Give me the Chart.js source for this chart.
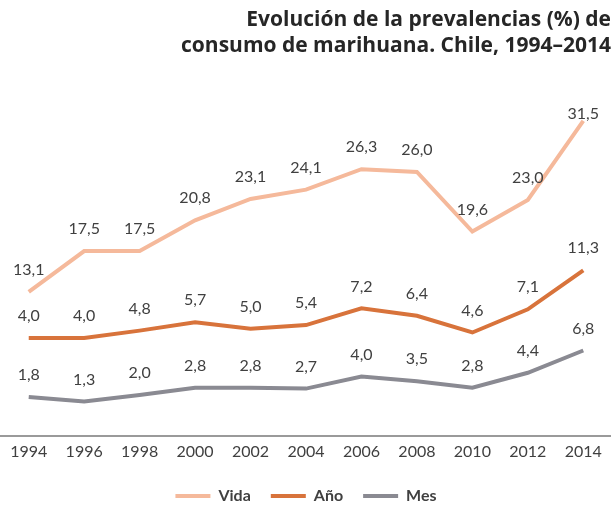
<!DOCTYPE html>
<html lang="es">
<head>
    <meta charset="UTF-8">
    <title>Prevalencias marihuana Chile</title>
    <style>
        html, body { margin: 0; padding: 0; background: #fff; }
        #chart { display: block; }
    </style>
</head>
<body>
    <canvas id="chart" width="611" height="506"></canvas>
    <script src="https://cdn.jsdelivr.net/npm/chart.js"></script>
    <script>
        // valores
        const years = ['1994', '1996', '1998', '2000', '2002', '2004', '2006', '2008', '2010', '2012', '2014'];
        const vida = [13.1, 17.5, 17.5, 20.8, 23.1, 24.1, 26.3, 26.0, 19.6, 23.0, 31.5];
        const anio = [4.0, 4.0, 4.8, 5.7, 5.0, 5.4, 7.2, 6.4, 4.6, 7.1, 11.3];
        const mes = [1.8, 1.3, 2.0, 2.8, 2.8, 2.7, 4.0, 3.5, 2.8, 4.4, 6.8];
        const titleLines = ['Evolución de la prevalencias (%) de', 'consumo de marihuana. Chile, 1994–2014'];

        const labelColor = '#404040';

        // etiquetas de valor encima de cada punto (sin salir del área del gráfico)
        const valueLabels = {
            id: 'valueLabels',
            afterDatasetsDraw(chart) {
                const ctx = chart.ctx;
                const top = chart.chartArea.top + 14;
                ctx.save();
                ctx.font = '16px Lato';
                ctx.fillStyle = labelColor;
                ctx.textAlign = 'center';
                ctx.textBaseline = 'middle';
                chart.data.datasets.forEach((ds, i) => {
                    const meta = chart.getDatasetMeta(i);
                    meta.data.forEach((pt, j) => {
                        const txt = ds.data[j].toFixed(1).replace('.', ',');
                        ctx.fillText(txt, pt.x, Math.max(pt.y - 22, top));
                    });
                });
                ctx.restore();
            }
        };

        const ctx = document.getElementById('chart').getContext('2d');
        const chart = new Chart(ctx, {
            type: 'line',
            data: {
                labels: years,
                datasets: [
                    {
                        label: 'Vida',
                        data: vida,
                        borderColor: '#f5b99b',
                        backgroundColor: '#f5b99b',
                        borderWidth: 4,
                        pointRadius: 0,
                        yAxisID: 'y'
                    },
                    {
                        label: 'Año',
                        data: anio,
                        borderColor: '#d8733b',
                        backgroundColor: '#d8733b',
                        borderWidth: 4,
                        pointRadius: 0,
                        yAxisID: 'y2'
                    },
                    {
                        label: 'Mes',
                        data: mes,
                        borderColor: '#8a8a92',
                        backgroundColor: '#8a8a92',
                        borderWidth: 4,
                        pointRadius: 0,
                        yAxisID: 'y'
                    }
                ]
            },
            options: {
                responsive: false,
                animation: false,
                layout: {
                    padding: { left: 1, right: 0, top: 0, bottom: -8 }
                },
                plugins: {
                    title: {
                        display: true,
                        text: titleLines,
                        align: 'end',
                        color: '#262626',
                        font: { family: 'Open Sans', size: 21, weight: 'bold', lineHeight: 1.25 },
                        padding: { top: 7, bottom: 40 }
                    },
                    legend: {
                        position: 'bottom',
                        labels: {
                            usePointStyle: true,
                            pointStyle: 'line',
                            pointStyleWidth: 35,
                            color: labelColor,
                            padding: 20,
                            font: { family: 'Lato', size: 16, weight: 'bold', lineHeight: 1 }
                        }
                    },
                    tooltip: { enabled: false }
                },
                scales: {
                    x: {
                        offset: true,
                        grid: { display: false, drawTicks: false },
                        border: { display: true, color: '#9a9a9a', width: 2 },
                        ticks: {
                            color: labelColor,
                            font: { family: 'Lato', size: 16, lineHeight: 1 },
                            padding: 8,
                            maxRotation: 0,
                            autoSkip: false
                        }
                    },
                    y: {
                        display: false,
                        min: -2.4,
                        max: 33.8
                    },
                    y2: {
                        display: false,
                        min: -6.55,
                        max: 29.7
                    }
                }
            },
            plugins: [valueLabels]
        });
    </script>
</body>
</html>
